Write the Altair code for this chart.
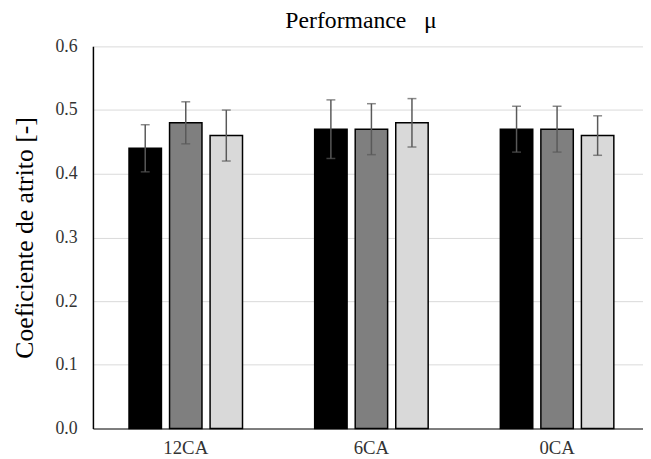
import altair as alt
import pandas as pd

categories = ["12CA", "6CA", "0CA"]
series = ["A", "B", "C"]
values = {
    "A": [0.44, 0.47, 0.47],
    "B": [0.48, 0.47, 0.47],
    "C": [0.46, 0.48, 0.46],
}
errors = {
    "A": [0.037, 0.046, 0.036],
    "B": [0.033, 0.040, 0.036],
    "C": [0.040, 0.038, 0.031],
}
colors = ["#000000", "#7f7f7f", "#d9d9d9"]

rows = []
for s in series:
    for i, c in enumerate(categories):
        v = values[s][i]
        e = errors[s][i]
        rows.append({"cat": c, "series": s, "value": v, "lo": v - e, "hi": v + e})
df = pd.DataFrame(rows)

FONT = "Liberation Serif"

x = alt.X("cat:N", sort=categories, title=None,
          scale=alt.Scale(paddingInner=0, paddingOuter=0, range=[0, 564]),
          axis=alt.Axis(labelAngle=0, labelFont=FONT, labelFontSize=19, labelColor="#333333",
                        ticks=False, domainColor="#595959", domainWidth=1.5, labelPadding=10))
xo = alt.XOffset("series:N", sort=series,
                 scale=alt.Scale(paddingInner=0.2, paddingOuter=0.89))

base = alt.Chart(df)

bars = base.mark_bar(stroke="#000000", strokeWidth=1.5).encode(
    x=x, xOffset=xo,
    y=alt.Y("value:Q", scale=alt.Scale(domain=[0, 0.6]), title="Coeficiente de atrito [-]",
            axis=alt.Axis(values=[0, 0.1, 0.2, 0.3, 0.4, 0.5, 0.6], format=".1f",
                          labelFont=FONT, labelFontSize=18, labelColor="#333333",
                          titleFont=FONT, titleFontSize=26, titleFontWeight="normal",
                          titleColor="#000000", titlePadding=18,
                          domain=True, domainColor="#000000", domainWidth=1.5,
                          ticks=False, labelPadding=16,
                          gridColor="#d9d9d9", gridWidth=1)),
    color=alt.Color("series:N", sort=series, scale=alt.Scale(domain=series, range=colors), legend=None),
)

rules = base.mark_rule(color="#595959", strokeWidth=1.5).encode(
    x=x, xOffset=xo, y="lo:Q", y2="hi:Q")
cap_hi = base.mark_tick(color="#595959", thickness=1.5, size=9).encode(x=x, xOffset=xo, y="hi:Q")
cap_lo = base.mark_tick(color="#595959", thickness=1.5, size=9).encode(x=x, xOffset=xo, y="lo:Q")

chart = alt.layer(bars, rules, cap_hi, cap_lo).properties(
    width=557, height=387,
    background="#ffffff",
    title=alt.TitleParams("Performance\u00a0\u00a0\u00a0μ", font=FONT, fontSize=24, fontWeight="normal",
                          color="#000000", offset=5, dx=-7),
    autosize=alt.AutoSizeParams(type="none"),
    padding={"left": 86, "top": 36, "right": 0, "bottom": 30},
).configure_view(stroke=None)

chart.save("out.html", embed_options={"renderer": "svg", "actions": False})
